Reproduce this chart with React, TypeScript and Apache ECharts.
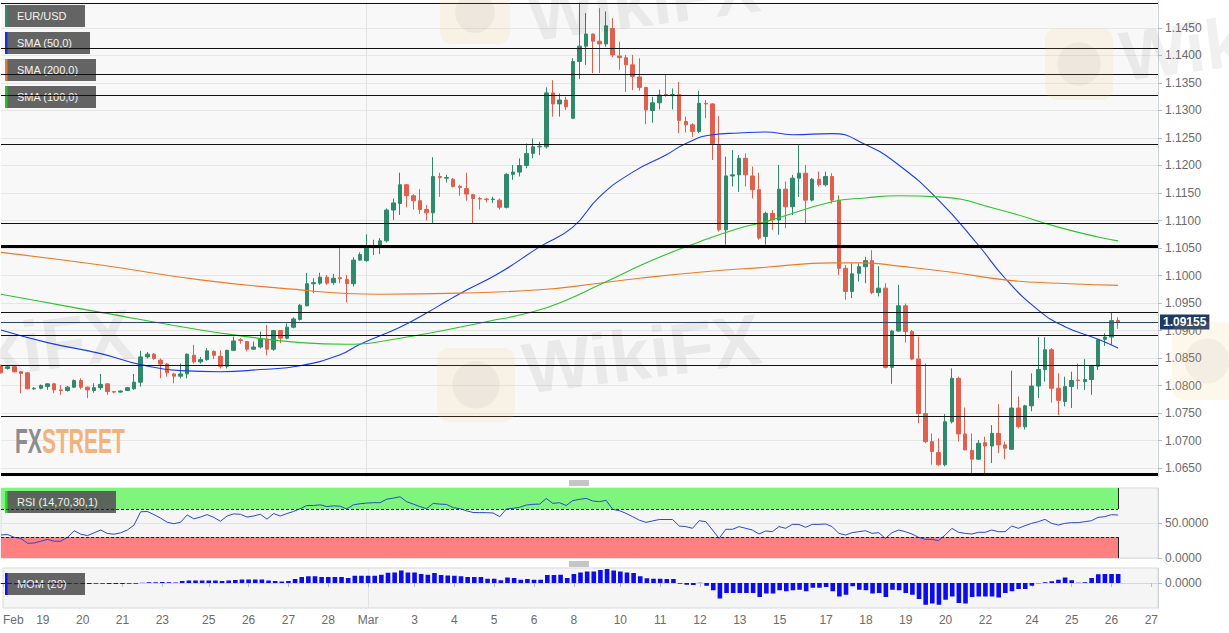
import React, { useEffect, useRef } from "react";
import * as echarts from "echarts";

// [open, high, low, close] for each 4-hour candle, EUR/USD
const CANDLES: [number, number, number, number][] = [
  [1.0836, 1.0838, 1.0822, 1.0823], [1.0831, 1.0836, 1.0829, 1.0834], [1.0834, 1.0836, 1.0824, 1.0825], [1.0825, 1.0826, 1.0786, 1.0822],
  [1.0823, 1.0824, 1.0793, 1.0794], [1.0794, 1.0797, 1.0792, 1.0795], [1.0795, 1.0802, 1.0793, 1.0800], [1.0798, 1.0804, 1.0792, 1.0803],
  [1.0803, 1.0805, 1.0786, 1.0792], [1.0792, 1.0801, 1.0783, 1.0791], [1.0791, 1.0799, 1.0789, 1.0797], [1.0797, 1.0811, 1.0796, 1.0809],
  [1.0809, 1.0813, 1.0793, 1.0797], [1.0797, 1.0798, 1.0777, 1.0792], [1.0791, 1.0804, 1.0787, 1.0796], [1.0796, 1.0821, 1.0792, 1.0802],
  [1.0803, 1.0804, 1.0783, 1.0789], [1.0789, 1.0790, 1.0786, 1.0788], [1.0788, 1.0791, 1.0787, 1.0790], [1.0791, 1.0797, 1.0790, 1.0796],
  [1.0794, 1.0821, 1.0792, 1.0806], [1.0806, 1.0863, 1.0798, 1.0852], [1.0852, 1.0861, 1.0849, 1.0857], [1.0857, 1.0859, 1.0847, 1.0849],
  [1.0846, 1.0849, 1.0813, 1.0839], [1.0839, 1.0841, 1.0816, 1.0823], [1.0821, 1.0823, 1.0804, 1.0817], [1.0817, 1.0840, 1.0813, 1.0821],
  [1.0821, 1.0858, 1.0813, 1.0857], [1.0855, 1.0874, 1.0840, 1.0843], [1.0843, 1.0852, 1.0840, 1.0847], [1.0847, 1.0868, 1.0845, 1.0863],
  [1.0862, 1.0864, 1.0848, 1.0855], [1.0853, 1.0864, 1.0831, 1.0835], [1.0835, 1.0865, 1.0831, 1.0864], [1.0864, 1.0889, 1.0863, 1.0881],
  [1.0883, 1.0886, 1.0876, 1.0882], [1.0880, 1.0880, 1.0862, 1.0866], [1.0866, 1.0880, 1.0865, 1.0870], [1.0870, 1.0898, 1.0867, 1.0884],
  [1.0884, 1.0910, 1.0855, 1.0866], [1.0866, 1.0901, 1.0863, 1.0900], [1.0900, 1.0901, 1.0877, 1.0886], [1.0886, 1.0913, 1.0884, 1.0906],
  [1.0906, 1.0924, 1.0904, 1.0921], [1.0920, 1.0948, 1.0918, 1.0946], [1.0945, 1.1005, 1.0944, 1.0985], [1.0985, 1.0995, 1.0968, 1.0987],
  [1.0986, 1.1005, 1.0983, 1.0997], [1.0997, 1.1001, 1.0983, 1.0986], [1.0987, 1.1003, 1.0983, 1.0995], [1.0996, 1.1051, 1.0986, 1.0994],
  [1.0993, 1.1001, 1.0951, 1.0985], [1.0985, 1.1033, 1.0980, 1.1028], [1.1028, 1.1042, 1.1027, 1.1038], [1.1027, 1.1075, 1.1025, 1.1054],
  [1.1051, 1.1065, 1.1037, 1.1053], [1.1055, 1.1068, 1.1039, 1.1063], [1.1063, 1.1122, 1.1060, 1.1119], [1.1119, 1.1140, 1.1101, 1.1132],
  [1.1131, 1.1187, 1.1110, 1.1165], [1.1165, 1.1166, 1.1124, 1.1145], [1.1145, 1.1148, 1.1120, 1.1136], [1.1136, 1.1157, 1.1112, 1.1120],
  [1.1120, 1.1128, 1.1100, 1.1114], [1.1114, 1.1215, 1.1095, 1.1180], [1.1180, 1.1187, 1.1143, 1.1178], [1.1177, 1.1183, 1.1169, 1.1178],
  [1.1175, 1.1177, 1.1160, 1.1162], [1.1162, 1.1165, 1.1145, 1.1160], [1.1158, 1.1187, 1.1136, 1.1148], [1.1147, 1.1148, 1.1095, 1.1140],
  [1.1140, 1.1143, 1.1120, 1.1139], [1.1139, 1.1141, 1.1133, 1.1138], [1.1138, 1.1143, 1.1132, 1.1139], [1.1137, 1.1140, 1.1120, 1.1124],
  [1.1124, 1.1186, 1.1122, 1.1184], [1.1184, 1.1201, 1.1174, 1.1188], [1.1188, 1.1213, 1.1180, 1.1200], [1.1200, 1.1240, 1.1195, 1.1222],
  [1.1222, 1.1249, 1.1213, 1.1234], [1.1234, 1.1243, 1.1219, 1.1235], [1.1234, 1.1342, 1.1231, 1.1332], [1.1332, 1.1355, 1.1289, 1.1312],
  [1.1312, 1.1331, 1.1289, 1.1319], [1.1319, 1.1325, 1.1301, 1.1307], [1.1286, 1.1395, 1.1285, 1.1389], [1.1389, 1.1496, 1.1357, 1.1417],
  [1.1417, 1.1477, 1.1383, 1.1439], [1.1439, 1.1440, 1.1368, 1.1426], [1.1426, 1.1486, 1.1368, 1.1421], [1.1421, 1.1480, 1.1416, 1.1454],
  [1.1449, 1.1468, 1.1397, 1.1401], [1.1399, 1.1425, 1.1374, 1.1396], [1.1396, 1.1401, 1.1334, 1.1383], [1.1383, 1.1401, 1.1337, 1.1362],
  [1.1361, 1.1395, 1.1336, 1.1342], [1.1342, 1.1343, 1.1275, 1.1301], [1.1300, 1.1325, 1.1278, 1.1314], [1.1314, 1.1338, 1.1302, 1.1328],
  [1.1329, 1.1366, 1.1325, 1.1328], [1.1327, 1.1340, 1.1302, 1.1329], [1.1329, 1.1352, 1.1259, 1.1282], [1.1280, 1.1289, 1.1260, 1.1274],
  [1.1274, 1.1277, 1.1252, 1.1262], [1.1262, 1.1336, 1.1259, 1.1313], [1.1313, 1.1319, 1.1286, 1.1312], [1.1312, 1.1313, 1.1210, 1.1240],
  [1.1237, 1.1290, 1.1080, 1.1083], [1.1083, 1.1216, 1.1056, 1.1181], [1.1181, 1.1228, 1.1162, 1.1183], [1.1183, 1.1219, 1.1152, 1.1213],
  [1.1213, 1.1222, 1.1162, 1.1183], [1.1181, 1.1198, 1.1140, 1.1156], [1.1156, 1.1187, 1.1065, 1.1068], [1.1071, 1.1116, 1.1056, 1.1113],
  [1.1113, 1.1119, 1.1083, 1.1101], [1.1101, 1.1201, 1.1074, 1.1157], [1.1157, 1.1171, 1.1086, 1.1125], [1.1125, 1.1183, 1.1110, 1.1177],
  [1.1177, 1.1237, 1.1143, 1.1186], [1.1186, 1.1201, 1.1095, 1.1137], [1.1137, 1.1177, 1.1135, 1.1175], [1.1175, 1.1189, 1.1162, 1.1165],
  [1.1165, 1.1189, 1.1162, 1.1180], [1.1180, 1.1186, 1.1131, 1.1137], [1.1137, 1.1146, 1.1001, 1.1013], [1.1013, 1.1019, 1.0956, 1.0971],
  [1.0971, 1.1022, 1.0959, 1.1003], [1.1004, 1.1022, 1.0989, 1.1016], [1.1016, 1.1034, 1.0986, 1.1027], [1.1027, 1.1046, 1.0966, 1.0969],
  [1.0969, 1.1017, 1.0962, 1.0977], [1.0977, 1.0986, 1.0831, 1.0833], [1.0833, 1.0901, 1.0803, 1.0899], [1.0899, 1.0983, 1.0898, 1.0945],
  [1.0945, 1.0949, 1.0878, 1.0898], [1.0898, 1.0901, 1.0846, 1.0848], [1.0848, 1.0889, 1.0731, 1.0749], [1.0749, 1.0840, 1.0695, 1.0698],
  [1.0698, 1.0713, 1.0656, 1.0680], [1.0678, 1.0704, 1.0654, 1.0656], [1.0656, 1.0748, 1.0653, 1.0734], [1.0734, 1.0831, 1.0731, 1.0813],
  [1.0813, 1.0816, 1.0698, 1.0712], [1.0712, 1.0760, 1.0682, 1.0683], [1.0682, 1.0713, 1.0640, 1.0666], [1.0666, 1.0701, 1.0665, 1.0695],
  [1.0696, 1.0707, 1.0637, 1.0690], [1.0690, 1.0728, 1.0659, 1.0713], [1.0713, 1.0766, 1.0677, 1.0692], [1.0692, 1.0698, 1.0666, 1.0686],
  [1.0684, 1.0827, 1.0683, 1.0759], [1.0759, 1.0780, 1.0722, 1.0725], [1.0725, 1.0765, 1.0720, 1.0763], [1.0763, 1.0822, 1.0753, 1.0799],
  [1.0799, 1.0888, 1.0777, 1.0829], [1.0829, 1.0888, 1.0807, 1.0865], [1.0865, 1.0868, 1.0769, 1.0795], [1.0795, 1.0822, 1.0746, 1.0773],
  [1.0771, 1.0816, 1.0762, 1.0798], [1.0798, 1.0825, 1.0759, 1.0809], [1.0810, 1.0840, 1.0793, 1.0809], [1.0807, 1.0848, 1.0792, 1.0811],
  [1.0811, 1.0837, 1.0783, 1.0835], [1.0835, 1.0884, 1.0828, 1.0883], [1.0884, 1.0895, 1.0872, 1.0888], [1.0888, 1.0932, 1.0874, 1.0918],
  [1.0918, 1.0924, 1.0903, 1.09155],
];

// Category slots (candle index) and the day labels shown under them
const SLOT_COUNT = 175;
const X_TICKS: [number, string][] = [
  [0, "Feb"], [6, "19"], [12, "20"], [18, "21"], [24, "23"], [31, "25"], [37, "26"], [43, "27"], [49, "28"],
  [55, "Mar"], [62, "3"], [68, "4"], [74, "5"], [80, "6"], [86, "8"], [93, "10"], [99, "11"], [105, "12"],
  [111, "13"], [117, "15"], [124, "17"], [130, "18"], [136, "19"], [142, "20"], [148, "22"], [155, "24"],
  [161, "25"], [167, "26"], [173, "27"],
];
const MONTH_START = 55;

// Moving averages: [candle index, value]
const SMA50: [number, number][] = [
  [0, 1.0901], [7, 1.0878], [15, 1.0858], [21, 1.0838], [27, 1.0827], [33, 1.0825], [39, 1.0829], [45, 1.0836],
  [51, 1.0856], [54, 1.0875], [60, 1.0906], [64, 1.0932], [67, 1.0953], [69, 1.0967], [75, 1.1005], [81, 1.1052],
  [86, 1.1088], [90, 1.1143], [95, 1.1188], [100, 1.1219], [103, 1.1240], [107, 1.1256], [111, 1.1259], [115, 1.1261],
  [119, 1.1256], [125, 1.1258], [130, 1.1238], [135, 1.1201], [141, 1.1137], [147, 1.1055], [151, 1.0995], [156, 1.0937],
  [160, 1.0907], [165, 1.0884], [168, 1.0868],
];
const SMA200: [number, number][] = [
  [0, 1.1042], [15, 1.1019], [30, 1.0992], [42, 1.0977], [57, 1.0966], [69, 1.0968], [81, 1.0974], [90, 1.0986],
  [96, 1.0995], [105, 1.1006], [115, 1.1015], [125, 1.1023], [130, 1.1023], [135, 1.1017], [143, 1.1006], [151, 1.0992],
  [159, 1.0986], [168, 1.0982],
];
const SMA100: [number, number][] = [
  [0, 1.0966], [5, 1.0955], [15, 1.0933], [30, 1.0901], [35, 1.0892], [45, 1.0878], [52, 1.0875], [60, 1.0886],
  [73, 1.0916], [80, 1.0934], [85, 1.0955], [90, 1.0983], [98, 1.1028], [105, 1.1061], [111, 1.1086], [115, 1.1098],
  [125, 1.1134], [130, 1.1141], [135, 1.1145], [141, 1.1143], [150, 1.1120], [159, 1.1088], [165, 1.1070], [168, 1.1063],
];

// RSI (14) per candle
const RSI: number[] = [
  33, 33.5, 29.5, 28, 21, 21.5, 24, 26.5, 24, 24,
  29.5, 39, 34, 32, 36, 40, 35, 34, 36, 40,
  47, 66, 66.5, 62, 57, 51, 49, 51, 61.5, 56,
  58.5, 62, 58, 52.5, 60, 63, 62.5, 58.5, 60, 62.5,
  55.5, 63.5, 60, 63.5, 66.5, 70.5, 75, 75, 76, 73.5,
  74.5, 74, 70, 76, 77.5, 78.5, 79, 79, 84, 85.5,
  87.5, 80.5, 77, 73.5, 70.5, 78, 77, 76.5, 72, 70.5,
  67.5, 65, 64.8, 64.8, 64.3, 59, 70, 71, 72.4, 75.7,
  76.7, 77, 85, 78, 79, 75, 82, 83.8, 85.2, 81.4,
  80.5, 82.4, 69.5, 67.6, 63.8, 59, 54, 50.9, 53, 55,
  55, 55, 45.7, 44.8, 42.4, 53.3, 51.9, 40, 28, 41,
  41, 44.8, 42.4, 40, 34.3, 38.6, 37.6, 44.8, 42.4, 48,
  48, 43.8, 48, 48, 48.6, 44.8, 35.2, 32.9, 36.2, 37.6,
  39, 35.2, 36.2, 28, 36.2, 40, 37.6, 34.3, 29.5, 26.7,
  26.7, 24.8, 32.9, 42.4, 36.7, 35.2, 34.3, 36.7, 36.7, 40,
  37.6, 37.6, 45.7, 42.4, 46.2, 49.5, 51.9, 55.2, 49.5, 47.1,
  49.5, 50.5, 50.5, 51.9, 53.3, 58.1, 59, 61.9, 61.4,
];

// Momentum (20) per candle
const MOM: number[] = [
  -0.002, -0.002, -0.0025, -0.002, -0.0025, -0.003, -0.002, -0.002, -0.0025, -0.002,
  -0.002, -0.0015, -0.002, -0.002, -0.0015, -0.0015, -0.002, -0.002, -0.002, -0.0015,
  -0.0015, 0.0005, 0.0015, 0.0015, 0.002, 0.0015, 0.001, 0.004, 0.005, 0.005,
  0.005, 0.005, 0.005, 0.004, 0.005, 0.006, 0.007, 0.007, 0.007, 0.007,
  0.005, 0.004, 0.003, 0.004, 0.008, 0.012, 0.0135, 0.0135, 0.012, 0.012,
  0.012, 0.012, 0.01, 0.0145, 0.0145, 0.0145, 0.0145, 0.0165, 0.0205, 0.021,
  0.025, 0.021, 0.021, 0.018, 0.0165, 0.02, 0.016, 0.015, 0.0145, 0.0135,
  0.012, 0.012, 0.012, 0.0085, 0.0085, 0.0055, 0.011, 0.01, 0.0065, 0.008,
  0.0065, 0.0065, 0.016, 0.016, 0.0165, 0.01, 0.018, 0.021, 0.023, 0.023,
  0.026, 0.028, 0.025, 0.023, 0.021, 0.02, 0.0135, 0.0095, 0.0085, 0.0085,
  0.008, 0.008, -0.0015, -0.0035, -0.004, 0.0005, -0.0055, -0.0145, -0.031, -0.02,
  -0.02, -0.02, -0.02, -0.02, -0.028, -0.021, -0.021, -0.0145, -0.0165, -0.0145,
  -0.0135, -0.0165, -0.0095, -0.0095, -0.008, -0.0165, -0.027, -0.0235, -0.0065, -0.0135,
  -0.0145, -0.021, -0.02, -0.028, -0.0135, -0.0145, -0.02, -0.0235, -0.032, -0.0435,
  -0.041, -0.0435, -0.0335, -0.027, -0.04, -0.041, -0.028, -0.027, -0.027, -0.027,
  -0.029, -0.02, -0.0165, -0.012, -0.012, -0.0055, -0.0005, 0.0015, 0.0035, 0.0065,
  0.011, 0.0055, 0.0005, 0.0015, 0.01, 0.0175, 0.018, 0.018, 0.018,
];

// Axis ticks
const PRICE_TICKS = [
  1.065, 1.07, 1.075, 1.08, 1.085, 1.09, 1.095, 1.1, 1.105, 1.11, 1.115, 1.12, 1.125, 1.13, 1.135, 1.14, 1.145,
];
const RSI_TICKS = [0, 50];
const MOM_TICKS = [0];
const RSI_LEVELS = { upper: 70, lower: 30 };

// Hand-drawn horizontal levels
const LEVELS_THIN = [1.1495, 1.1413, 1.1366, 1.1327, 1.1239, 1.1095, 1.0933, 1.0892, 1.0836, 1.0745];
const LEVELS_THICK = [1.1054, 1.0639];

// Legend texts
const LEGEND_MAIN: [string, string][] = [
  ["EUR/USD", "#2e8a6a"],
  ["SMA (50,0)", "#1531e0"],
  ["SMA (200,0)", "#e87a22"],
  ["SMA (100,0)", "#22c322"],
];
const LEGEND_RSI: [string, string] = ["RSI (14,70,30,1)", "#22e022"];
const LEGEND_MOM: [string, string] = ["MOM (20)", "#1010f0"];

const UP = "#2e8a6a";
const DOWN = "#e0604e";
const FONT = "'Liberation Sans', Arial, Helvetica, sans-serif";

export default function App() {
  const ref = useRef<HTMLDivElement>(null);

  useEffect(() => {
    document.body.style.margin = "0";
    const chart = echarts.init(ref.current as HTMLDivElement, null, { renderer: "svg" });

    const cats = Array.from({ length: SLOT_COUNT }, (_, i) => String(i));
    const tickMap = new Map<number, string>(X_TICKS);
    const lastIdx = CANDLES.length - 1;
    const lastClose = CANDLES[lastIdx][3];

    const gridL = 1;
    const gridR = 71;

    const monthSplit = {
      show: true,
      interval: (i: number) => i === MONTH_START,
      lineStyle: { color: "#e3e3e3", width: 1 },
    };

    const xBase = (gridIndex: number, showLabels: boolean) => ({
      type: "category",
      gridIndex,
      data: cats,
      boundaryGap: false,
      axisLine: showLabels ? { show: true, lineStyle: { color: "#d3d6dc" } } : { show: false },
      axisTick: showLabels
        ? { show: true, length: 4, interval: (i: number) => tickMap.has(i), lineStyle: { color: "#b8bcc4" } }
        : { show: false },
      axisLabel: showLabels
        ? {
            show: true,
            interval: (i: number) => tickMap.has(i),
            formatter: (_v: string, i: number) => tickMap.get(i) ?? "",
            color: "#6b6b6b",
            fontSize: 12,
            fontFamily: FONT,
            margin: 6,
            alignMinLabel: "left",
          }
        : { show: false },
      splitLine: monthSplit,
    });

    const yLabel = (values: number[], digits: number) => ({
      show: true,
      customValues: values,
      formatter: (v: number) => Number(v).toFixed(digits),
      color: "#6b6b6b",
      fontSize: 12,
      fontFamily: FONT,
      margin: 7,
    });

    const legendBox = (label: string, color: string, y: number, w: number) => ({
      type: "group",
      z: 3,
      silent: true,
      children: [
        { type: "rect", shape: { x: 5, y, width: w, height: 22 }, style: { fill: "rgba(88,88,88,0.93)" }, z: 3 },
        { type: "rect", shape: { x: 5, y, width: 2.5, height: 22 }, style: { fill: color }, z: 3 },
        {
          type: "text",
          x: 17,
          y: y + 11,
          style: { text: label, fill: "#f2f2f2", font: `11px ${FONT}`, verticalAlign: "middle" },
          z: 3,
        },
      ],
    });

    const watermark = (x: number, y: number, size: number) => ({
      type: "text",
      x,
      y,
      rotation: 0.13,
      silent: true,
      z: 20,
      style: {
        text: "WikiFX",
        fill: "rgba(60,60,60,0.075)",
        font: `bold ${size}px ${FONT}`,
        verticalAlign: "bottom",
      },
    });
    const wmLogo = (x: number, y: number, w: number, h: number) => ({
      type: "group",
      silent: true,
      z: 20,
      children: [
        { type: "rect", shape: { x, y, width: w, height: h, r: 12 }, style: { fill: "rgba(245,195,110,0.13)" }, z: 20 },
        { type: "circle", shape: { cx: x + w / 2, cy: y + h / 2, r: Math.min(w, h) * 0.32 }, style: { fill: "rgba(90,90,90,0.06)" }, z: 20 },
      ],
    });

    const handle = (y: number) => ({
      type: "group",
      silent: true,
      children: [0, 2, 4].map((d) => ({
        type: "line",
        shape: { x1: 569, y1: y + d, x2: 589, y2: y + d },
        style: { stroke: "#8c8c8c", lineWidth: 1 },
      })),
    });

    const option: any = {
      animation: false,
      backgroundColor: "#ffffff",
      textStyle: { fontFamily: FONT },
      grid: [
        { left: gridL, right: gridR, top: 2, height: 475, show: true, backgroundColor: "#f8f8f8", borderWidth: 0 },
        { left: gridL, right: gridR, top: 488, height: 70, show: true, backgroundColor: "#f5f5f5", borderColor: "#d8dade", borderWidth: 1 },
        { left: gridL, right: gridR, top: 568, height: 40, show: true, backgroundColor: "#f5f5f5", borderColor: "#d8dade", borderWidth: 1 },
      ],
      xAxis: [xBase(0, false), xBase(1, false), xBase(2, true)],
      yAxis: [
        {
          type: "value",
          gridIndex: 0,
          position: "right",
          min: 1.063364,
          max: 1.149727,
          axisLine: { show: true, lineStyle: { color: "#cfd3da" } },
          axisTick: { show: true, length: 4, customValues: PRICE_TICKS, lineStyle: { color: "#b8bcc4" } },
          axisLabel: yLabel(PRICE_TICKS, 4),
          splitLine: { show: true, lineStyle: { color: "#e6e6e6" } },
        },
        {
          type: "value",
          gridIndex: 1,
          position: "right",
          min: 0,
          max: 100,
          axisLine: { show: true, lineStyle: { color: "#cfd3da" } },
          axisTick: { show: true, length: 4, customValues: RSI_TICKS, lineStyle: { color: "#b8bcc4" } },
          axisLabel: yLabel(RSI_TICKS, 4),
          splitLine: { show: true, lineStyle: { color: "#e2e2e2" } },
        },
        {
          type: "value",
          gridIndex: 2,
          position: "right",
          min: -0.05,
          max: 0.03,
          axisLine: { show: true, lineStyle: { color: "#cfd3da" } },
          axisTick: { show: true, length: 4, customValues: MOM_TICKS, lineStyle: { color: "#b8bcc4" } },
          axisLabel: yLabel(MOM_TICKS, 4),
          splitLine: { show: false },
        },
      ],
      series: [
        {
          type: "candlestick",
          name: "EUR/USD",
          xAxisIndex: 0,
          yAxisIndex: 0,
          z: 2,
          barWidth: 4,
          data: CANDLES.map(([o, h, l, c]) => [o, c, l, h]),
          itemStyle: { color: UP, color0: DOWN, borderColor: UP, borderColor0: DOWN, borderWidth: 1 },
          markLine: {
            silent: true,
            symbol: "none",
            animation: false,
            precision: 5,
            label: { show: false },
            data: [
              ...LEVELS_THIN.map((v) => ({ yAxis: v, lineStyle: { color: "#111", width: 1.2, type: "solid" } })),
              ...LEVELS_THICK.map((v) => ({ yAxis: v, lineStyle: { color: "#000", width: 3.2, type: "solid" } })),
              {
                yAxis: lastClose,
                lineStyle: { color: "#2a4468", width: 1, type: "solid" },
                label: {
                  show: true,
                  position: "end",
                  distance: 2,
                  formatter: () => lastClose.toFixed(5),
                  backgroundColor: "#1d3b62",
                  color: "#ffffff",
                  fontWeight: "bold",
                  fontSize: 12,
                  fontFamily: FONT,
                  padding: [2, 3, 1, 3],
                },
              },
            ],
          },
        },
        {
          type: "line",
          name: "SMA (50,0)",
          xAxisIndex: 0,
          yAxisIndex: 0,
          data: SMA50,
          smooth: true,
          showSymbol: false,
          symbol: "none",
          z: 3,
          lineStyle: { color: "#1a3ee6", width: 1.1 },
        },
        {
          type: "line",
          name: "SMA (200,0)",
          xAxisIndex: 0,
          yAxisIndex: 0,
          data: SMA200,
          smooth: true,
          showSymbol: false,
          symbol: "none",
          z: 3,
          lineStyle: { color: "#ee7a26", width: 1.1 },
        },
        {
          type: "line",
          name: "SMA (100,0)",
          xAxisIndex: 0,
          yAxisIndex: 0,
          data: SMA100,
          smooth: true,
          showSymbol: false,
          symbol: "none",
          z: 3,
          lineStyle: { color: "#2bc42b", width: 1.1 },
        },
        {
          type: "line",
          name: "RSI",
          xAxisIndex: 1,
          yAxisIndex: 1,
          data: RSI,
          showSymbol: false,
          symbol: "none",
          z: 3,
          lineStyle: { color: "#2a48cc", width: 1 },
          markArea: {
            silent: true,
            data: [
              [{ coord: [0, RSI_LEVELS.upper], itemStyle: { color: "#80f57e" } }, { coord: [lastIdx, 100] }],
              [{ coord: [0, 0], itemStyle: { color: "#ff8080" } }, { coord: [lastIdx, RSI_LEVELS.lower] }],
            ],
          },
          markLine: {
            silent: true,
            symbol: "none",
            precision: 3,
            label: { show: false },
            data: [
              [{ coord: [0, RSI_LEVELS.upper], lineStyle: { color: "#222", width: 1, type: [3, 2] } }, { coord: [lastIdx, RSI_LEVELS.upper] }],
              [{ coord: [0, RSI_LEVELS.lower], lineStyle: { color: "#222", width: 1, type: [3, 2] } }, { coord: [lastIdx, RSI_LEVELS.lower] }],
              [{ coord: [lastIdx, RSI_LEVELS.upper], lineStyle: { color: "#222", width: 1, type: "solid" } }, { coord: [lastIdx, 100] }],
              [{ coord: [lastIdx, 0], lineStyle: { color: "#222", width: 1, type: "solid" } }, { coord: [lastIdx, RSI_LEVELS.lower] }],
            ],
          },
        },
        {
          type: "bar",
          name: "MOM",
          xAxisIndex: 2,
          yAxisIndex: 2,
          data: MOM,
          barWidth: 4.6,
          z: 3,
          itemStyle: { color: "#0b0bef" },
        },
      ],
      graphic: [
        ...LEGEND_MAIN.map(([label, color], k) => legendBox(label, color, 5 + k * 27, [80, 85, 91, 91][k])),
        legendBox(LEGEND_RSI[0], LEGEND_RSI[1], 491, 111),
        legendBox(LEGEND_MOM[0], LEGEND_MOM[1], 573, 80),
        {
          type: "group",
          silent: true,
          z: 3,
          children: [
            { type: "text", x: 15, y: 458, scaleX: 0.6, style: { text: "FX", fill: "#8d8d8d", font: `bold 35px ${FONT}`, verticalAlign: "bottom" }, z: 3 },
            { type: "text", x: 42, y: 458, scaleX: 0.6, style: { text: "STREET", fill: "#f2b27c", font: `bold 35px ${FONT}`, verticalAlign: "bottom" }, z: 3 },
          ],
        },
        handle(481),
        handle(562),
        wmLogo(440, -18, 70, 62),
        watermark(533, 52, 70),
        wmLogo(437, 348, 78, 74),
        watermark(528, 405, 72),
        watermark(-100, 400, 72),
        wmLogo(1045, 28, 68, 72),
        watermark(1125, 92, 70),
        wmLogo(1172, 322, 70, 78),
      ],
    };

    chart.setOption(option);
    return () => chart.dispose();
  }, []);

  return <div ref={ref} style={{ width: 1229, height: 633, background: "#ffffff" }} />;
}
